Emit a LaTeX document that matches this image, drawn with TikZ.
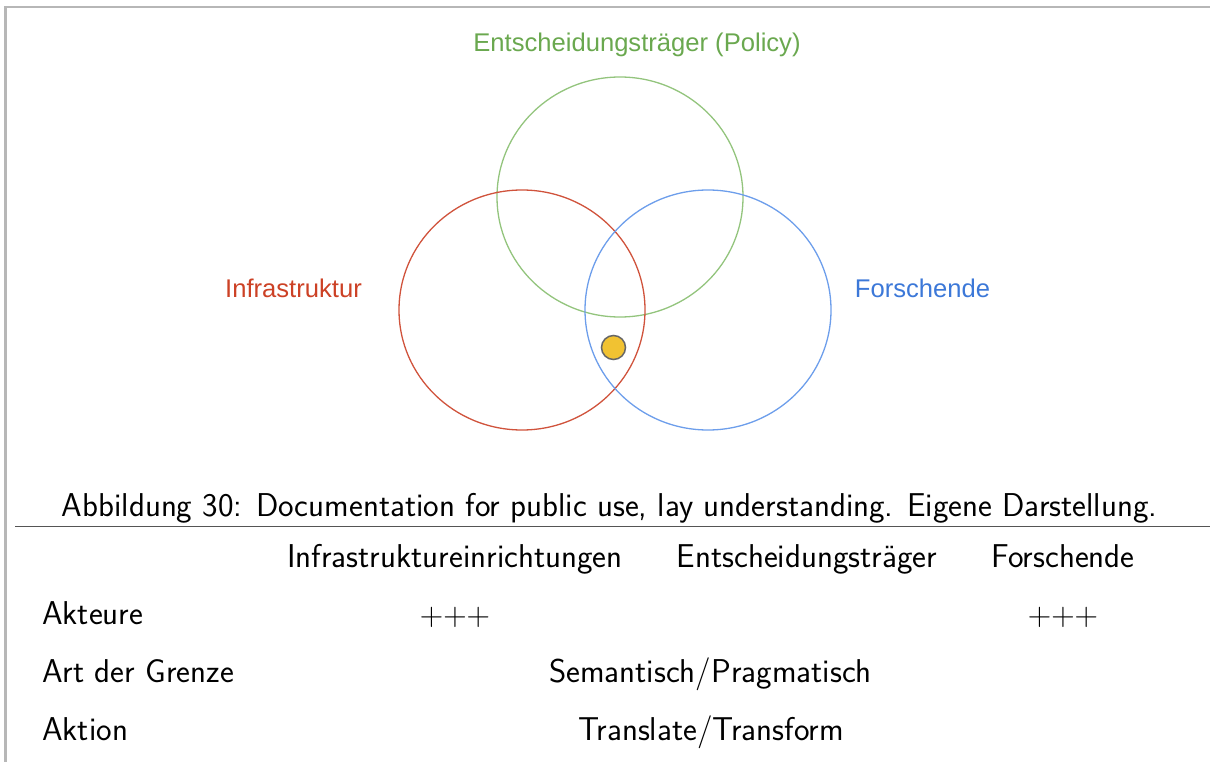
\documentclass[tikz,border=0pt]{standalone}
\usepackage{fontspec}
\newfontfamily\arialfont{Liberation Sans}
\definecolor{frame}{HTML}{B7B7B7}
\definecolor{rulec}{HTML}{555555}
\definecolor{gcirc}{HTML}{93C47D}
\definecolor{rcirc}{HTML}{D0533C}
\definecolor{bcirc}{HTML}{6D9EEB}
\definecolor{gtext}{HTML}{6AA84F}
\definecolor{rtext}{HTML}{CC4125}
\definecolor{btext}{HTML}{3C78D8}
\definecolor{dotfill}{HTML}{F1C232}
\definecolor{dotline}{HTML}{666666}
\tikzset{
  lbl/.style={font=\arialfont\fontsize{25.6}{30}\selectfont, inner sep=0pt, anchor=base},
  tbl/.style={font=\sffamily\fontsize{33}{38}\selectfont, inner sep=0pt, anchor=base},
  tblL/.style={tbl, anchor=base west},
  plus/.style={tbl, font=\rmfamily\fontsize{32.5}{38}\selectfont},
  venn/.style={line width=1.3pt},
}
\begin{document}
\begin{tikzpicture}[x=1pt,y=-1pt]
\useasboundingbox (0,0) rectangle (1210,762);
% frame
\draw[frame, line width=2.2pt] (5.5,762) -- (5.5,7) -- (1210,7);
% Venn circles
\draw[venn, gcirc] (620,197) ellipse [x radius=123, y radius=120];
\draw[venn, rcirc] (522,310) ellipse [x radius=123, y radius=120];
\draw[venn, bcirc] (708,310) ellipse [x radius=123, y radius=120];
\node[circle, minimum size=24pt, inner sep=0pt, fill=dotfill, draw=dotline, line width=1.5pt] (dot) at (613.5,347.5) {};
% labels
\node[lbl, text=gtext] (policy) at (637,52) {Entscheidungsträger (Policy)};
\node[lbl, text=rtext] (infra) at (293.5,297.5) {Infrastruktur};
\node[lbl, text=btext] (forsch) at (922.5,297.5) {Forschende};
% caption
\node[tbl] (cap) at (609.5,516.5) {Abbildung 30: Documentation for public use, lay understanding. Eigene Darstellung.};
\draw[rulec, line width=1.5pt] (15,526.5) -- (1210,526.5);
% table
\node[tbl] (h1) at (455,567) {Infrastruktureinrichtungen};
\node[tbl] (h2) at (807,567) {Entscheidungsträger};
\node[tbl] (h3) at (1063,567) {Forschende};
\node[tblL] (r1) at (42,624.5) {Akteure};
\node[plus] (p1) at (455,625) {+++};
\node[plus] (p3) at (1063,625) {+++};
\node[tblL] (r2) at (42,682) {Art der Grenze};
\node[tbl] (sem) at (710.5,682) {Semantisch/Pragmatisch};
\node[tblL] (r3) at (42,740) {Aktion};
\node[tbl] (tra) at (711,740) {Translate/Transform};
\end{tikzpicture}
\end{document}
